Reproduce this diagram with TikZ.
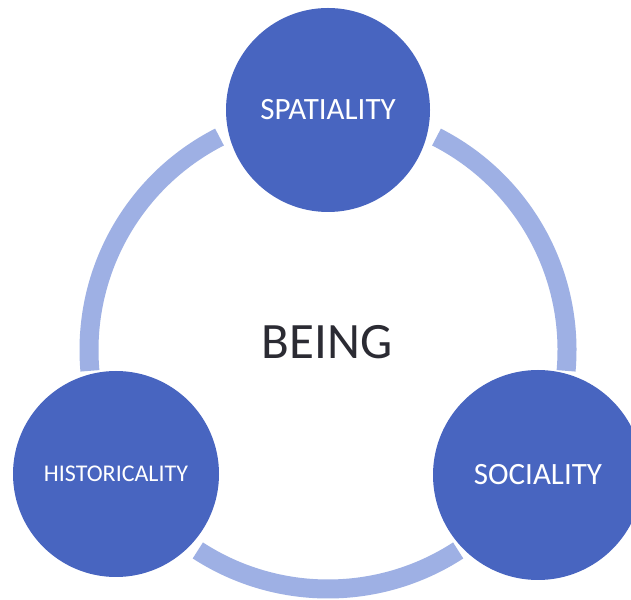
\documentclass[tikz,border=0pt]{standalone}
\usepackage{fontspec}
\setmainfont{Carlito}
\definecolor{nodeblue}{RGB}{72,101,192}
\definecolor{ringblue}{RGB}{158,176,228}
\definecolor{beingtext}{RGB}{43,43,51}
\begin{document}
\begin{tikzpicture}[x=1pt,y=1pt,
  bubble/.style={circle,fill=nodeblue,text=white,inner sep=0pt,align=center},
  ringarc/.style={draw=ringblue,line width=19pt,line cap=butt}]
\useasboundingbox (0,0) rectangle (631,599);
\fill[white] (0,0) rectangle (631,599);
% ring arcs
\coordinate (ringc) at (328,249);
\draw[ringarc] ([shift={(117:239)}]ringc) arc[start angle=117,end angle=185,radius=239];
\draw[ringarc] ([shift={(237:239)}]ringc) arc[start angle=237,end angle=303,radius=239];
\draw[ringarc] ([shift={(-5:239)}]ringc) arc[start angle=-5,end angle=63,radius=239];
% nodes
\node[bubble,minimum size=204pt,font=\fontsize{31}{31}\selectfont] (spat) at (328,489) {SPATIALITY};
\node[bubble,minimum size=206pt,font=\fontsize{24}{24}\selectfont] (hist) at (116,125) {HISTORICALITY};
\node[bubble,minimum size=210pt,font=\fontsize{31}{31}\selectfont] (soc) at (538,124) {SOCIALITY};
\node[text=beingtext,font=\fontsize{51}{51}\selectfont] (being) at (327,257) {BEING};
\end{tikzpicture}
\end{document}
